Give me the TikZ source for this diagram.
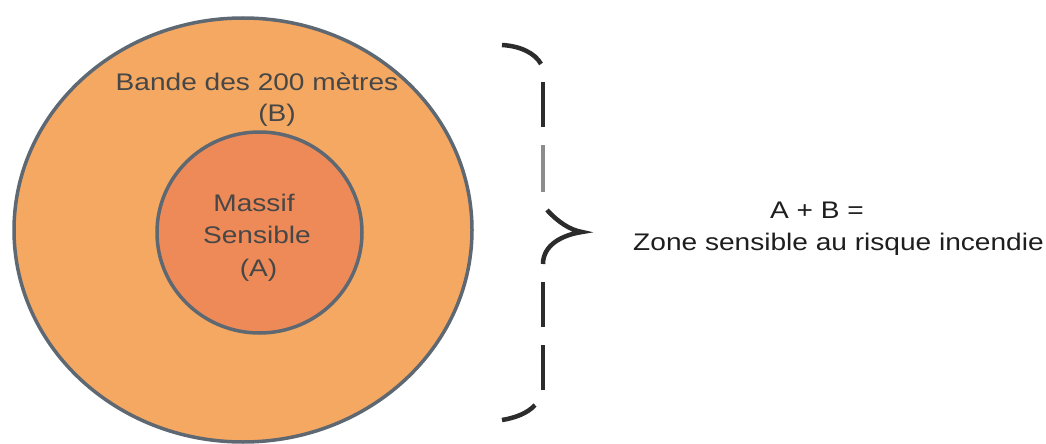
\documentclass[tikz,border=0pt]{standalone}
\usepackage{fontspec}
\setmainfont{Liberation Sans}
\usetikzlibrary{shapes.geometric}
\definecolor{outerfill}{HTML}{F4A862}
\definecolor{innerfill}{HTML}{EE8A58}
\definecolor{ringline}{HTML}{5E6872}
\definecolor{labelgray}{HTML}{474747}
\definecolor{textdark}{HTML}{1E1E1E}
\definecolor{bracecol}{HTML}{2C2C2C}
\definecolor{bracegray}{HTML}{8C8C8C}
\begin{document}
\begin{tikzpicture}[x=1pt,y=-1pt,
  ring/.style={draw=ringline, line width=3.5pt, ellipse, inner sep=0pt},
  lbl/.style={anchor=base, inner sep=0pt, xscale=1.17, font=\fontsize{24}{31}\selectfont, text=labelgray},
  rtxt/.style={lbl, text=textdark},
  bracestroke/.style={draw=bracecol, line width=4.5pt},
]
\useasboundingbox (0,0) rectangle (1046,444);
\clip (0,0) rectangle (1046,444);
\fill[white] (0,0) rectangle (1046,444);

% rings
\node[ring, fill=outerfill, minimum width=458pt, minimum height=424pt] (outer) at (243,230) {};
\node[ring, fill=innerfill, minimum width=205pt, minimum height=201pt] (inner) at (259.5,232.5) {};

% labels inside
\node[lbl] (bande) at (257,90) {Bande des 200 mètres};
\node[lbl] (bl) at (277,121) {(B)};
\node[lbl] (massif) at (254,211.5) {Massif};
\node[lbl] (sensible) at (257,243.5) {Sensible};
\node[lbl] (al) at (258.5,276.5) {(A)};

% right text
\node[rtxt] (sum) at (817,218.5) {A + B =};
\node[rtxt] (zone) at (838.5,250) {Zone sensible au risque incendie};

% brace
\draw[bracestroke] (502,45) .. controls (520,46) and (535,53) .. (541,64);
\draw[bracestroke] (543,82) -- (543,127);
\draw[draw=bracegray, line width=4.5pt] (543,145) -- (543,192);
\draw[bracestroke] (547,210) .. controls (558,222) and (570,230) .. (582,232)
   .. controls (562,235) and (543,245) .. (543,264);
\draw[bracestroke] (543,282) -- (543,327);
\draw[bracestroke] (543,345) -- (543,390);
\draw[bracestroke] (535,405) .. controls (528,413) and (515,418) .. (502,420);
\end{tikzpicture}
\end{document}
